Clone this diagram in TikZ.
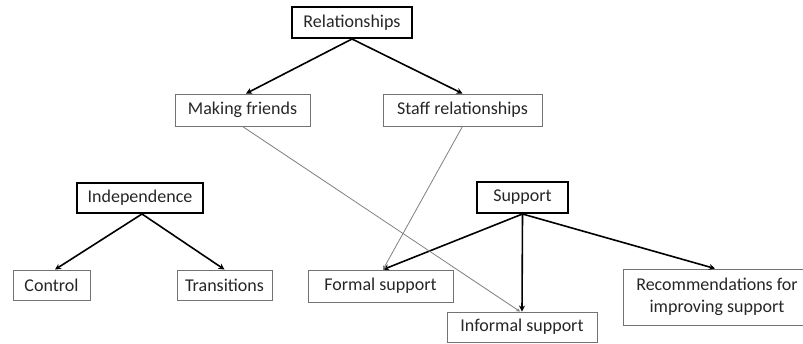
\documentclass[tikz,border=0pt]{standalone}
\usepackage{fontspec}
\setmainfont{Carlito}
\usetikzlibrary{arrows.meta}
\begin{document}
\begin{tikzpicture}[x=1pt,y=-1pt,
  box/.style={draw=black!55,line width=0.9pt,inner sep=0pt,font=\fontsize{18}{22}\selectfont,align=center,text=black!85},
  mainbox/.style={box,draw=black,line width=2pt},
  arr/.style={line width=1.6pt,-{Stealth[length=6pt,width=6pt]}},
  thin/.style={draw=black!50,line width=0.8pt,-{Stealth[length=4pt,width=4pt]}}]
\useasboundingbox (0,0) rectangle (803,344);
\clip (0,0) rectangle (803,344);
\node[mainbox,minimum width=120pt,minimum height=31pt] (rel) at (352,22.5) {Relationships};
\node[box,minimum width=135pt,minimum height=32pt] (mf) at (242.5,110) {Making friends};
\node[box,minimum width=159pt,minimum height=32pt] (sr) at (462.5,110) {Staff relationships};
\node[mainbox,minimum width=126pt,minimum height=30pt] (ind) at (140,198) {Independence};
\node[box,minimum width=77pt,minimum height=30pt] (ctrl) at (51.5,285) {Control};
\node[box,minimum width=95pt,minimum height=30pt] (trans) at (224.5,285) {Transitions};
\node[mainbox,minimum width=91pt,minimum height=31pt] (sup) at (522.5,197.5) {Support};
\node[box,minimum width=145pt,minimum height=32pt] (formal) at (380.5,286) {Formal support};
\node[box,minimum width=150pt,minimum height=30pt] (informal) at (522,327) {Informal support};
\node[box,minimum width=188pt,minimum height=56pt] (rec) at (717,297) {Recommendations for\\improving support};
\draw[arr] (rel.south) -- ([xshift=3.5pt]mf.north);
\draw[arr] (rel.south) -- (sr.north);
\draw[arr] ([xshift=2pt]ind.south) -- ([xshift=3.5pt]ctrl.north);
\draw[arr] ([xshift=2pt]ind.south) -- (trans.north);
\draw[arr] (sup.south) -- ([xshift=2.5pt]formal.north);
\draw[arr] (sup.south) -- (informal.north);
\draw[arr] (sup.south) -- ([xshift=-2pt]rec.north);
\draw[thin] (mf.south) -- ([xshift=-2pt]informal.north);
\draw[thin] (sr.south) -- ([xshift=2.5pt]formal.north);
\end{tikzpicture}
\end{document}
